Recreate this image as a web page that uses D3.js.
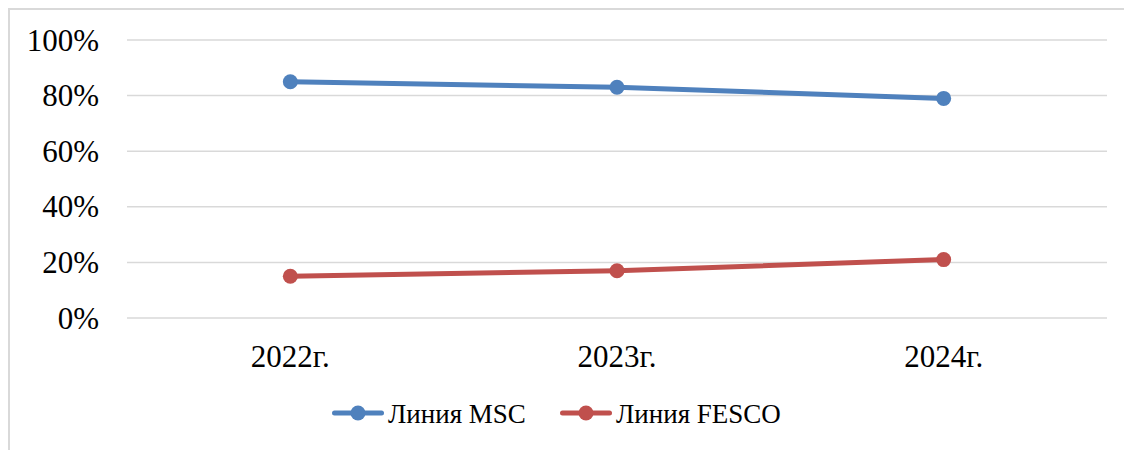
<!DOCTYPE html>
<html>
<head>
<meta charset="utf-8">
<script src="https://cdn.jsdelivr.net/npm/d3@7"></script>
<style>
body{margin:0;background:#fff;}
text{font-family:"Liberation Serif","Times New Roman",serif;fill:#000;}
</style>
</head>
<body>
<script>
var years=["2022г.","2023г.","2024г."];
var msc=[85,83,79];
var fesco=[15,17,21];
var yTicks=[0,20,40,60,80,100];
var seriesNames=["Линия MSC","Линия FESCO"];
var seriesColors=["#4F81BD","#C0504D"];

var W=1124,H=450;
var svg=d3.select("body").append("svg").attr("width",W).attr("height",H)
	.attr("font-family","Liberation Serif, serif");

// frame (right and bottom run off the picture)
svg.append("path")
	.attr("d","M9,"+(H+5)+"V9H"+(W+5))
	.attr("fill","none").attr("stroke","#D9D9D9").attr("stroke-width",2);

var x=d3.scaleBand().domain(years).range([127,1107]);
var y=d3.scaleLinear().domain([0,100]).range([318,40]);

var grid=svg.append("g");
grid.selectAll("line").data(yTicks).enter().append("line")
	.attr("x1",127).attr("x2",1107)
	.attr("y1",function(d){return y(d)}).attr("y2",function(d){return y(d)})
	.attr("stroke","#D9D9D9").attr("stroke-width",1.5);

svg.selectAll(".ylab").data(yTicks).enter().append("text")
	.attr("class","ylab")
	.attr("x",99).attr("y",function(d){return y(d)+10.5})
	.attr("text-anchor","end").style("font-size","31px")
	.text(function(d){return d+"%"});

svg.selectAll(".xlab").data(years).enter().append("text")
	.attr("class","xlab")
	.attr("x",function(d){return x(d)+x.bandwidth()/2}).attr("y",367)
	.attr("text-anchor","middle").style("font-size","31px")
	.text(function(d){return d});

var series=[msc,fesco];
var line=d3.line()
	.x(function(d,i){return x(years[i])+x.bandwidth()/2})
	.y(function(d){return y(d)});

series.forEach(function(s,k){
	svg.append("path").datum(s).attr("d",line)
		.attr("fill","none").attr("stroke",seriesColors[k]).attr("stroke-width",5)
		.attr("stroke-linejoin","round").attr("stroke-linecap","round");
	svg.selectAll(".pt"+k).data(s).enter().append("circle")
		.attr("cx",function(d,i){return x(years[i])+x.bandwidth()/2})
		.attr("cy",function(d){return y(d)})
		.attr("r",7.5).attr("fill",seriesColors[k]);
});

// legend
var legX=[332,560];
var legend=svg.selectAll(".leg").data(seriesNames).enter().append("g")
	.attr("transform",function(d,i){return "translate("+legX[i]+",413)"});
legend.append("line").attr("x1",2.5).attr("x2",49.5)
	.attr("stroke",function(d,i){return seriesColors[i]}).attr("stroke-width",5)
	.attr("stroke-linecap","round");
legend.append("circle").attr("cx",26).attr("r",7.5)
	.attr("fill",function(d,i){return seriesColors[i]});
legend.append("text").attr("x",56).attr("y",9.5).style("font-size","27px")
	.text(function(d){return d});
</script>
</body>
</html>
